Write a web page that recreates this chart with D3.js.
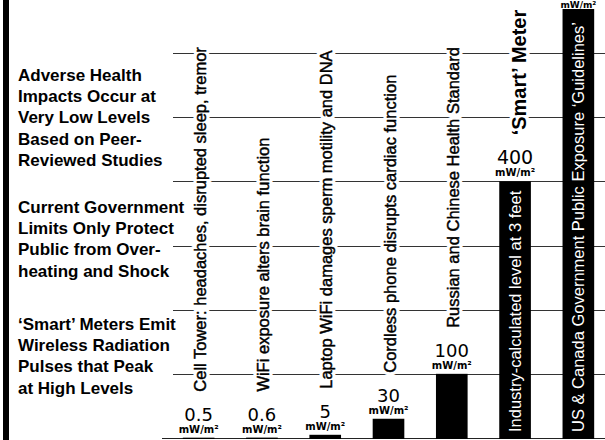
<!DOCTYPE html>
<html><head><meta charset="utf-8">
<script src="https://cdn.jsdelivr.net/npm/d3@7/dist/d3.min.js"></script>
<style>body{margin:0;background:#fff}svg{display:block}</style>
</head><body>
<script>
// ---- data ----
const categories = ["Cell Tower", "WiFi", "Laptop WiFi", "Cordless phone", "Russian and Chinese Standard", "Smart Meter", "US & Canada Guidelines"];
const values = [0.5, 0.6, 5, 30, 100, 400, 10000];
const valueLabels = ["0.5", "0.6", "5", "30", "100", "400", "10,000"];
const unitLabel = "mW/m²";
const labelsAbove = [
  "Cell Tower: headaches, disrupted sleep, tremor",
  "WiFi exposure alters brain function",
  "Laptop WiFi damages sperm motility and DNA",
  "Cordless phone disrupts cardiac function",
  "Russian and Chinese Health Standard",
  "‘Smart’ Meter",
  ""
];
const labelsInside = ["", "", "", "", "", "Industry-calculated level at 3 feet", "US & Canada Government Public Exposure ‘Guidelines’"];
const gridTicks = [100, 200, 300, 400, 500, 600];
const noteBlocks = [
  ["Adverse Health", "Impacts Occur at", "Very Low Levels", "Based on Peer-", "Reviewed Studies"],
  ["Current Government", "Limits Only Protect", "Public from Over-", "heating and Shock"],
  ["‘Smart’ Meters Emit", "Wireless Radiation", "Pulses that Peak", "at High Levels"]
];

// ---- layout ----
const W = 605, H = 440;
const baseY = 438, topY = 9;
const svg = d3.select("body").append("svg").attr("width", W).attr("height", H);

const x = d3.scaleBand().domain(d3.range(categories.length)).range([167, 610]).paddingInner(0.5).paddingOuter(0.25);
const y = d3.scaleLinear().domain([0, 600]).range([baseY, 53]);

svg.append("defs").append("clipPath").attr("id", "plot")
  .append("rect").attr("x", 0).attr("y", topY).attr("width", W).attr("height", baseY - topY + 2);

// left thick border
svg.append("rect").attr("x", 3).attr("y", 0).attr("width", 6).attr("height", H).attr("fill", "#000");

// gridlines
svg.append("g").selectAll("line").data(gridTicks).join("line")
  .attr("x1", 173).attr("x2", W)
  .attr("y1", d => Math.round(y(d)) + 0.5).attr("y2", d => Math.round(y(d)) + 0.5)
  .attr("stroke", "#333").attr("stroke-width", 1);

// baseline
svg.append("line").attr("x1", 162).attr("x2", W).attr("y1", baseY + 0.5).attr("y2", baseY + 0.5)
  .attr("stroke", "#222").attr("stroke-width", 1);

// bars
const gBars = svg.append("g").attr("clip-path", "url(#plot)");
gBars.selectAll("rect").data(values).join("rect")
  .attr("x", (d, i) => x(i)).attr("width", x.bandwidth())
  .attr("y", d => y(d)).attr("height", d => Math.max(0, baseY - y(d)) + 1)
  .attr("fill", "#000");

const topOf = d => Math.max(topY, y(d));
const cx = i => x(i) + x.bandwidth() / 2;

// value labels
const gVal = svg.append("g").attr("font-family", "DejaVu Sans, sans-serif").attr("fill", "#000");
values.forEach((v, i) => {
  const clipped = y(v) < topY;
  if (!clipped) {
    gVal.append("text").attr("x", cx(i)).attr("y", topOf(v) - 17)
      .attr("text-anchor", "middle").attr("font-size", v >= 400 ? 19 : 18).text(valueLabels[i]);
  }
  gVal.append("text").attr("x", cx(i)).attr("y", clipped ? topOf(v) - 1 : topOf(v) - 5)
    .attr("text-anchor", "middle").attr("font-size", clipped ? 9 : 10).attr("font-weight", "bold").text(unitLabel);
});

// rotated labels above bars (white halo breaks the gridlines)
const gAbove = svg.append("g").attr("font-family", "Liberation Sans, Arial, sans-serif");
labelsAbove.forEach((t, i) => {
  if (!t) return;
  const big = i === 5;
  const tr = `translate(${cx(i) + (big ? 11 : 7)},${topOf(values[i]) - 46}) rotate(-90)`;
  [0, 1].forEach(layer => {
    gAbove.append("text").attr("transform", tr)
      .attr("font-size", big ? 20 : 16.5).attr("font-weight", big ? "bold" : "normal")
      .attr("fill", layer ? "#000" : "#fff")
      .attr("stroke", layer ? "#000" : "#fff")
      .attr("stroke-width", layer ? (big ? 0 : 0.45) : 7)
      .attr("stroke-linejoin", "round")
      .text(t);
  });
});

// rotated labels inside bars
const gIn = svg.append("g").attr("font-family", "Liberation Sans, Arial, sans-serif").attr("fill", "#fff");
labelsInside.forEach((t, i) => {
  if (!t) return;
  gIn.append("text")
    .attr("transform", `translate(${cx(i) + 6},${baseY - 6}) rotate(-90)`)
    .attr("font-size", 16.5).text(t);
});

// left notes
const blockBase = [81, 213, 330];
const gNotes = svg.append("g").attr("font-family", "Liberation Sans, Arial, sans-serif")
  .attr("font-weight", "bold").attr("font-size", 17).attr("fill", "#000");
noteBlocks.forEach((lines, b) => {
  lines.forEach((ln, j) => {
    gNotes.append("text").attr("x", 18).attr("y", blockBase[b] + j * 21.2).text(ln);
  });
});
</script>
</body></html>
